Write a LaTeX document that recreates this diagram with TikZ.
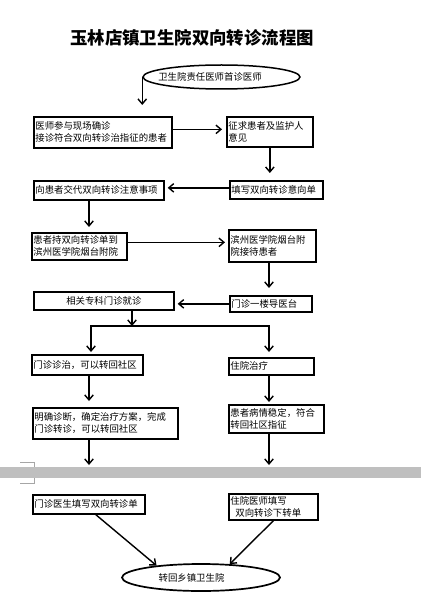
\documentclass[tikz,border=0pt]{standalone}
\usepackage{fontspec}
\newfontfamily\cjk{Noto Sans CJK SC}
\usetikzlibrary{arrows.meta, positioning, shapes.geometric}

\begin{document}
\begin{tikzpicture}[
        x=1pt, y=-1pt,
        font=\cjk\fontsize{9.4}{12}\selectfont,
        process/.style={rectangle, draw=black, line width=1.7pt, align=left, anchor=north west,
                        inner xsep=1.5pt, inner ysep=1pt},
        terminal/.style={ellipse, draw=black, line width=1.5pt, inner sep=0pt},
        arrow/.style={line width=1.4pt, -{Straight Barb[length=5pt, width=8.5pt]}}
    ]
        \useasboundingbox (0,0) rectangle (421,612);
        \fill[white] (0,0) rectangle (421,612);

        \node[font=\cjk\bfseries\fontsize{17.4}{20}\selectfont] (title) at (192,38) {玉林店镇卫生院双向转诊流程图};

        \node[terminal, minimum width=157pt, minimum height=24pt] (first) at (221.5,77) {\hspace*{-23pt}卫生院责任医师首诊医师};

        \node[process, text width=135pt, minimum height=31pt] (confirm) at (33,116) {医师参与现场确诊\\接诊符合双向转诊治指征的患者};
        \node[process, text width=83pt, minimum height=30pt] (consent) at (226,116) {征求患者及监护人\\意见};
        \node[process, text width=90pt, minimum height=18pt] (form) at (229,180) {填写双向转诊意向单};
        \node[process, text width=127pt, minimum height=19pt] (explain) at (33,180) {向患者交代双向转诊注意事项};
        \node[process, text width=92pt, minimum height=27pt] (carry) at (31,232) {患者持双向转诊单到\\滨州医学院烟台附院};
        \node[process, text width=84pt, minimum height=32pt] (receive) at (228,229) {滨州医学院烟台附\\院接待患者};
        \node[process, text width=79pt, minimum height=16pt] (guide) at (229,295) {门诊一楼导医台};
        \node[process, text width=137pt, minimum height=18pt, align=center] (clinic) at (33,291) {相关专科门诊就诊};

        \node[process, text width=108pt, minimum height=20pt] (outpat) at (31,354) {门诊诊治，可以转回社区};
        \node[process, text width=82pt, minimum height=17pt] (inpat) at (228,357) {住院治疗};
        \node[process, text width=142pt, minimum height=31pt] (diagnose) at (32,407) {明确诊断，确定治疗方案，完成\\门诊转诊，可以转回社区};
        \node[process, text width=92pt, minimum height=28pt] (stable) at (228,404) {患者病情稳定，符合\\转回社区指征};

        % page break of the document
        \node[fill=black!25, minimum width=421pt, minimum height=11pt, inner sep=0pt, anchor=north west] (pagebreak) at (0,467) {};
        \draw[black!35, line width=0.5pt] (20,462) -- (34,462) -- (34,467);
        \draw[black!35, line width=0.5pt] (20,483) -- (34,483) -- (34,478);

        \node[process, text width=109pt, minimum height=19pt] (outform) at (32,494) {门诊医生填写双向转诊单};
        \node[process, text width=86pt, minimum height=26pt] (inform) at (228,493) {住院医师填写\\\hspace*{5pt}双向转诊下转单};

        \node[terminal, line width=1.7pt, minimum width=158pt, minimum height=27pt] (back) at (201,577.5) {\hspace*{-19pt}转回乡镇卫生院};

        \coordinate (lcol) at (89,0);
        \coordinate (lsplit) at (91,0);
        \coordinate (rcol) at (269,0);
        \coordinate (split) at (132,326);

        \draw[arrow, shorten >=11pt] (first.west) -- (first.west |- confirm.north);
        \draw[arrow, shorten >=4pt] ([yshift=3pt]confirm.east) -- ([yshift=3pt]confirm.east -| consent.west);
        \draw[arrow, shorten >=7pt] (consent.south) -- (consent.south |- form.north);
        \draw[arrow, shorten >=3pt] ([yshift=2pt]form.west) -- ([yshift=2pt]form.west -| explain.east);
        \draw[arrow, shorten >=5pt] (explain.south -| lcol) -- (carry.north -| lcol);
        \draw[arrow, shorten >=3pt] ([yshift=4pt]carry.east) -- ([yshift=4pt]carry.east -| receive.west);
        \draw[arrow, shorten >=7pt] (receive.south -| rcol) -- (guide.north -| rcol);
        \draw[arrow, shorten >=3pt] (guide.west) -- (guide.west -| clinic.east);

        \draw[arrow] (clinic.south -| split) -- (split);
        \draw[arrow, shorten >=2pt] (split) -| (outpat.north -| lsplit);
        \draw[arrow, shorten >=5pt] (split) -| (inpat.north -| rcol);

        \draw[arrow, shorten >=6pt] (outpat.south -| lcol) -- (diagnose.north -| lcol);
        \draw[arrow, shorten >=2pt] (inpat.south -| rcol) -- (stable.north -| rcol);
        \draw[arrow, shorten >=2pt] (diagnose.south -| lcol) -- (pagebreak.north -| lcol);
        \draw[arrow, shorten >=2pt] (stable.south -| rcol) -- (pagebreak.north -| rcol);

        \draw[arrow] ([xshift=7pt]outform.south) -- (back.165);
        \draw[arrow] (inform.south) -- (back.25);
    \end{tikzpicture}
\end{document}
